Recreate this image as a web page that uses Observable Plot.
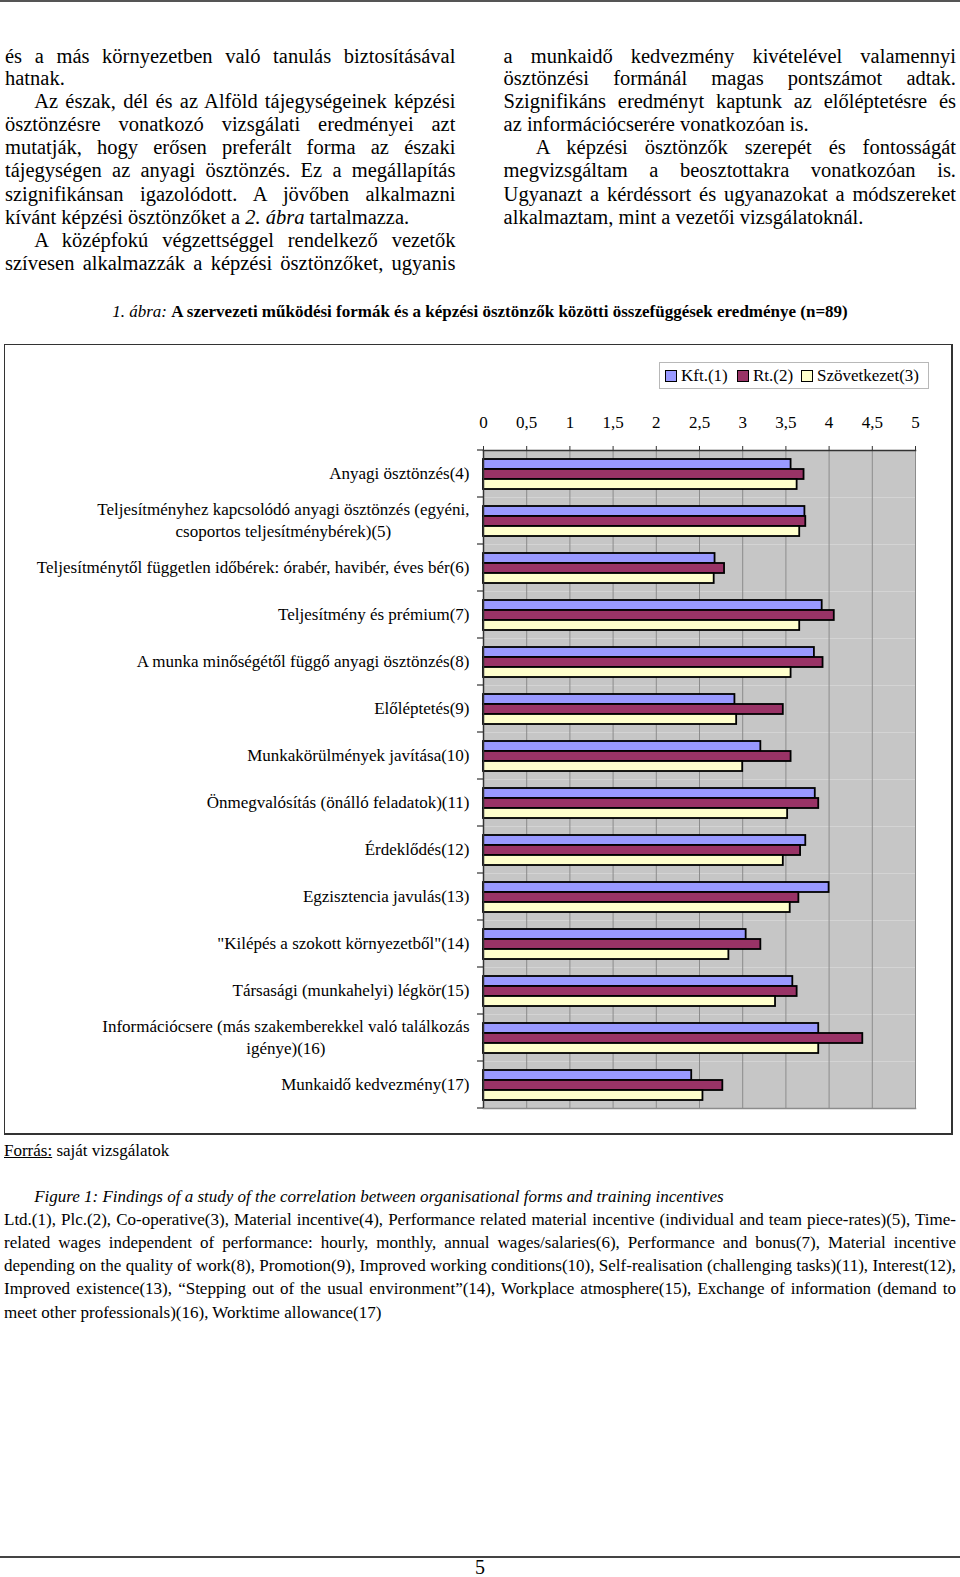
<!DOCTYPE html>
<html><head><meta charset="utf-8">
<script src="https://cdn.jsdelivr.net/npm/d3@7"></script>
<script src="https://cdn.jsdelivr.net/npm/@observablehq/plot@0.6"></script>
<style>
html,body{margin:0;padding:0;background:#fff;}
body{width:960px;height:1577px;position:relative;overflow:hidden;font-family:"Liberation Serif","Times New Roman",serif;color:#000;}
.ln{position:absolute;white-space:nowrap;}
.ln span{display:inline-block;white-space:nowrap;transform-origin:0 50%;}
#topline{position:absolute;left:0;top:0;width:960px;height:2px;background:#555;}
#frame{position:absolute;left:4px;top:344px;width:946px;height:788px;border:1px solid #333;border-right-width:2px;border-bottom-width:2px;}
#legend{position:absolute;left:659px;top:362px;width:270px;height:27px;border:1px solid #b8b8b8;box-sizing:border-box;font-size:17px;line-height:25px;}
#legend .it{position:absolute;top:0;white-space:nowrap;}
#legend .sw{display:inline-block;width:10px;height:10px;border:1px solid #000;margin-right:4px;vertical-align:-1px;}
#chart{position:absolute;left:0;top:395px;}
#pagerule{position:absolute;left:0;top:1556px;width:960px;height:2px;background:#444;}
</style></head><body>
<div id="topline"></div>
<div id="frame"></div>
<div id="legend"></div>
<div id="chart"></div>
<div id="pagerule"></div>
<script>
// ---- data ----
const categories = [
  "Anyagi ösztönzés(4)",
  "Teljesítményhez kapcsolódó anyagi ösztönzés (egyéni,\ncsoportos teljesítménybérek)(5)",
  "Teljesítménytől független időbérek: órabér, havibér, éves bér(6)",
  "Teljesítmény és prémium(7)",
  "A munka minőségétől függő anyagi ösztönzés(8)",
  "Előléptetés(9)",
  "Munkakörülmények javítása(10)",
  "Önmegvalósítás (önálló feladatok)(11)",
  "Érdeklődés(12)",
  "Egzisztencia javulás(13)",
  "\"Kilépés a szokott környezetből\"(14)",
  "Társasági (munkahelyi) légkör(15)",
  "Információcsere (más szakemberekkel való találkozás\nigénye)(16)",
  "Munkaidő kedvezmény(17)"
];
const kft  = [3.56, 3.72, 2.68, 3.92, 3.83, 2.91, 3.21, 3.84, 3.73, 4.00, 3.04, 3.58, 3.88, 2.41];
const rt   = [3.71, 3.73, 2.79, 4.06, 3.93, 3.47, 3.56, 3.88, 3.67, 3.65, 3.21, 3.63, 4.39, 2.77];
const szov = [3.63, 3.66, 2.67, 3.66, 3.56, 2.93, 3.00, 3.52, 3.47, 3.55, 2.84, 3.38, 3.88, 2.54];
const seriesNames = ["Kft.(1)", "Rt.(2)", "Szövetkezet(3)"];
const seriesColors = ["#9999ff", "#993366", "#ffffcc"];
const xTicks = [0, 0.5, 1, 1.5, 2, 2.5, 3, 3.5, 4, 4.5, 5];

const leftCol = [
  "és a más környezetben való tanulás biztosításával",
  "hatnak.",
  "Az észak, dél és az Alföld tájegységeinek képzési",
  "ösztönzésre vonatkozó vizsgálati eredményei azt",
  "mutatják, hogy erősen preferált forma az északi",
  "tájegységen az anyagi ösztönzés. Ez a megállapítás",
  "szignifikánsan igazolódott. A jövőben alkalmazni",
  "kívánt képzési ösztönzőket a <i>2. ábra</i> tartalmazza.",
  "A középfokú végzettséggel rendelkező vezetők",
  "szívesen alkalmazzák a képzési ösztönzőket, ugyanis"
];
const leftIndent = [0,0,1,0,0,0,0,0,1,0];
const leftJust   = [1,0,1,1,1,1,1,0,1,1];
const rightCol = [
  "a munkaidő kedvezmény kivételével valamennyi",
  "ösztönzési formánál magas pontszámot adtak.",
  "Szignifikáns eredményt kaptunk az előléptetésre és",
  "az információcserére vonatkozóan is.",
  "A képzési ösztönzők szerepét és fontosságát",
  "megvizsgáltam a beosztottakra vonatkozóan is.",
  "Ugyanazt a kérdéssort és ugyanazokat a módszereket",
  "alkalmaztam, mint a vezetői vizsgálatoknál."
];
const rightIndent = [0,0,0,0,1,0,0,0];
const rightJust   = [1,1,1,0,1,1,1,0];
const captionLines = [
  "Ltd.(1), Plc.(2), Co-operative(3), Material incentive(4), Performance related material incentive (individual and team piece-rates)(5), Time-",
  "related wages independent of performance: hourly, monthly, annual wages/salaries(6), Performance and bonus(7), Material incentive",
  "depending on the quality of work(8), Promotion(9), Improved working conditions(10), Self-realisation (challenging tasks)(11), Interest(12),",
  "Improved existence(13), “Stepping out of the usual environment”(14), Workplace atmosphere(15), Exchange of information (demand to",
  "meet other professionals)(16), Worktime allowance(17)"
];

// ---- text helpers ----
function addLine(html, left, right, yc, size, lh, justify, adj) {
  const d = document.createElement("div");
  d.className = "ln";
  d.style.left = left + "px";
  d.style.top = (yc - lh * 0.54 + (adj || 0)) + "px";
  d.style.fontSize = size + "px";
  d.style.lineHeight = lh + "px";
  const s = document.createElement("span");
  s.innerHTML = html;
  d.appendChild(s);
  document.body.appendChild(d);
  const W = right - left;
  const w = s.getBoundingClientRect().width;
  if (w > W) {
    s.style.transform = `scaleX(${W / w})`;
  } else if (justify) {
    const n = (s.textContent.match(/ /g) || []).length;
    if (n > 0) s.style.wordSpacing = ((W - w) / n) + "px";
  }
  return d;
}
const bodySize = 20.5, bodyLH = 23;
const rowY = [56.3, 78.4, 101.5, 124.6, 147.8, 170.9, 194.0, 217.1, 240.3, 263.4];
leftCol.forEach((t, i) => addLine(t, leftIndent[i] ? 34.2 : 5, 455.4, rowY[i], bodySize, bodyLH, leftJust[i], 1));
rightCol.forEach((t, i) => addLine(t, rightIndent[i] ? 535.8 : 503.6, 956, rowY[i], bodySize, bodyLH, rightJust[i], 1));

// figure title
const ttl = document.createElement("div");
ttl.className = "ln";
ttl.style.cssText = "left:0;width:960px;text-align:center;top:301px;font-size:17px;line-height:22px;";
ttl.innerHTML = "<i>1. ábra:</i> <b>A szervezeti működési formák és a képzési ösztönzők közötti összefüggések eredménye (n=89)</b>";
document.body.appendChild(ttl);

addLine("<u>Forrás:</u> saját vizsgálatok", 4, 900, 1149, 17, 20, false, 2.5);
addLine("<i>Figure 1: Findings of a study of the correlation between organisational forms and training incentives</i>", 34.2, 940, 1195, 17, 20, false, 2.5);
const capY = [1218.3, 1241.5, 1264.6, 1287.7, 1310.8];
captionLines.forEach((t, i) => addLine(t, 4, 956, capY[i], 17, 20, i < captionLines.length - 1, 2.5));
const pn = document.createElement("div");
pn.className = "ln";
pn.style.cssText = "left:0;width:960px;text-align:center;top:1559px;font-size:20px;line-height:16px;";
pn.textContent = "5";
document.body.appendChild(pn);

// legend
const leg = document.getElementById("legend");
const legX = [5, 77, 141];
seriesNames.forEach((n, i) => {
  const it = document.createElement("div");
  it.className = "it";
  it.style.left = legX[i] + "px";
  it.innerHTML = `<span class="sw" style="background:${seriesColors[i]}"></span>${n}`;
  leg.appendChild(it);
});

// ---- chart ----
const data = categories.flatMap((c, i) => [
  {cat: c, series: seriesNames[0], value: kft[i]},
  {cat: c, series: seriesNames[1], value: rt[i]},
  {cat: c, series: seriesNames[2], value: szov[i]}
]);
const fmt = d => String(d).replace(".", ",");
const chart = Plot.plot({
  width: 960, height: 727,
  marginLeft: 483, marginRight: 45, marginTop: 54, marginBottom: 14,
  style: {fontFamily: "'Liberation Serif', 'Times New Roman', serif", fontSize: "17px", background: "transparent", color: "#000", overflow: "visible"},
  x: {domain: [0, 5], axis: null},
  y: {domain: seriesNames, axis: null, paddingInner: 0, paddingOuter: 0.69},
  fy: {domain: categories, axis: null, padding: 0},
  color: {domain: seriesNames, range: seriesColors},
  marks: [
    Plot.frame({fill: "#c6c6c6", stroke: null}),
    Plot.gridX(xTicks, {stroke: "#8c8c8c", strokeOpacity: 1, strokeWidth: 1}),
    Plot.frame({anchor: "bottom", facetAnchor: "bottom", stroke: "#8c8c8c", strokeWidth: 1.5}),
    Plot.barX(data, {fy: "cat", y: "series", x: "value", fill: "series", stroke: "#000", strokeWidth: 1.8}),
    Plot.ruleX([0], {stroke: "#333", strokeWidth: 1.5}),
    Plot.frame({anchor: "top", facetAnchor: "top", stroke: "#333", strokeWidth: 1.5}),
    Plot.axisX(xTicks, {anchor: "top", tickSize: 5, tickPadding: 18, tickFormat: fmt, fontSize: 17, label: null, stroke: "#333"}),
    Plot.axisFy({anchor: "left", tickSize: 0, tickPadding: 14, fontSize: 17, lineHeight: 1.3, label: null, dy: -2})
  ]
});
document.getElementById("chart").appendChild(chart);

// category-boundary ticks on the left axis (from the library's fy and x scales)
try {
  const fy = chart.scale("fy");
  const x0 = chart.scale("x").apply(0);
  const svg = chart.tagName.toLowerCase() === "svg" ? chart : chart.querySelector("svg");
  const g = document.createElementNS("http://www.w3.org/2000/svg", "g");
  const ys = categories.map(c => fy.apply(c));
  ys.push(fy.apply(categories[categories.length - 1]) + fy.bandwidth);
  ys.forEach(y => {
    const l = document.createElementNS("http://www.w3.org/2000/svg", "line");
    l.setAttribute("x1", x0 - 6); l.setAttribute("x2", x0);
    l.setAttribute("y1", y); l.setAttribute("y2", y);
    l.setAttribute("stroke", "#333"); l.setAttribute("stroke-width", 1.2);
    g.appendChild(l);
  });
  svg.appendChild(g);
} catch (e) { console.error(e); }

// center wrapped category labels within their block (Excel style)
chart.querySelectorAll("g[aria-label='fy-axis tick label'] text").forEach(t => {
  const ts = t.querySelectorAll("tspan");
  if (ts.length > 1) {
    const w = Math.max(...Array.from(ts).map(s => s.getComputedTextLength()));
    t.setAttribute("text-anchor", "middle");
    ts.forEach(s => s.setAttribute("x", -w / 2));
  }
});
</script>
</body></html>
